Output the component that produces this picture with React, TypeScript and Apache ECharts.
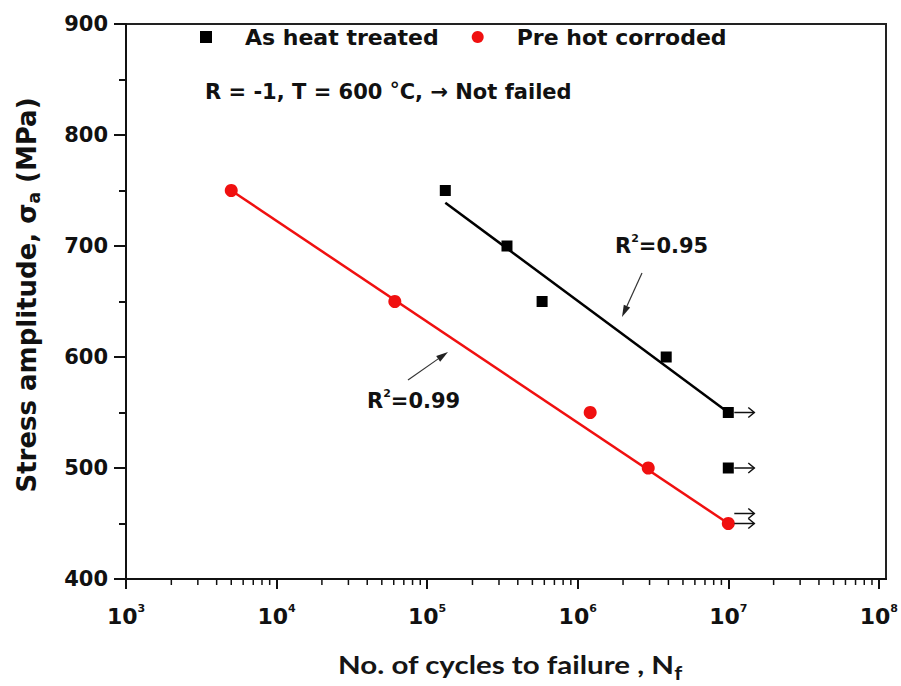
import React, { useEffect, useRef } from "react";
import * as echarts from "echarts";

// ---------- data ----------
const seriesNames = ["As heat treated", "Pre hot corroded"];

const heatTreatedN = [1.32e5, 3.39e5, 5.8e5, 3.87e6, 1e7, 1e7];
const heatTreatedS = [750, 700, 650, 600, 550, 500];

const corrodedN = [5.0e3, 6.1e4, 1.21e6, 2.94e6, 1e7];
const corrodedS = [750, 650, 550, 500, 450];

// fitted Basquin lines (end points)
const heatFitN = [1.32e5, 1e7];
const heatFitS = [739, 550];
const corrodedFitN = [5.0e3, 1e7];
const corrodedFitS = [750, 450];

// run-outs (not failed)
const heatRunoutN = [1e7, 1e7, 1e7];
const heatRunoutS = [550, 500, 450];
const corrodedRunoutN = [1e7];
const corrodedRunoutS = [450];

const xMin = 1e3;
const xMax = 1e8;
const yMin = 400;
const yMax = 900;
const yStep = 100;

const minorMultipliers = [2, 3, 4, 5, 6, 7, 8, 9];
const decadeExponents = [3, 4, 5, 6, 7];

const r2Heat = "0.95";
const r2Corroded = "0.99";

// ---------- styles ----------
const FONT = "'DejaVu Sans', sans-serif";
const INK = "#111111";
const RED = "#f01010";

const zip = (a: number[], b: number[]) => a.map((v, i) => [v, b[i]]);

// log-spaced minor tick values (2..9 × 10^e)
const minorTicks: number[][] = [];
decadeExponents.forEach((e) =>
  minorMultipliers.forEach((m) => minorTicks.push([m * Math.pow(10, e), yMin]))
);

const runoutData: number[][] = [];
(() => {
  const seen: Record<string, number> = {};
  const groups: [number[], number[]][] = [
    [corrodedRunoutN, corrodedRunoutS],
    [heatRunoutN, heatRunoutS],
  ];
  groups.forEach(([ns, ss]) =>
    ns.forEach((n, i) => {
      const key = n + "_" + ss[i];
      const k = seen[key] || 0;
      seen[key] = k + 1;
      runoutData.push([n, ss[i], k]);
    })
  );
})();

function annotationArrow(x1: number, y1: number, x2: number, y2: number) {
  const a = Math.atan2(y2 - y1, x2 - x1);
  const L = 12;
  const w = 3.5;
  const bx = x2 - L * Math.cos(a);
  const by = y2 - L * Math.sin(a);
  return [
    {
      type: "line",
      shape: { x1, y1, x2: bx, y2: by },
      style: { stroke: "#333", lineWidth: 1.2 },
    },
    {
      type: "polygon",
      shape: {
        points: [
          [x2, y2],
          [bx + w * Math.sin(a), by - w * Math.cos(a)],
          [bx - w * Math.sin(a), by + w * Math.cos(a)],
        ],
      },
      style: { fill: "#222" },
    },
  ];
}

const supRich = {
  sup: {
    fontSize: 11,
    fontWeight: "bold",
    fontFamily: FONT,
    lineHeight: 14,
    verticalAlign: "top",
    fill: INK,
    color: INK,
  },
};

export default function App() {
  const ref = useRef<HTMLDivElement>(null);

  useEffect(() => {
    if (!ref.current) return;
    const chart = echarts.init(ref.current, undefined, { renderer: "svg" });

    const option: any = {
      animation: false,
      backgroundColor: "#ffffff",
      grid: { left: 126, top: 24, width: 754, height: 555, containLabel: false },
      legend: {
        left: 195,
        top: 21,
        itemWidth: 12,
        itemHeight: 12,
        itemGap: 33,
        selectedMode: false,
        data: [
          { name: seriesNames[0], icon: "rect" },
          { name: seriesNames[1], icon: "circle" },
        ],
        textStyle: {
          fontFamily: FONT,
          fontWeight: "bold",
          fontSize: 22,
          color: INK,
          padding: [0, 0, 0, 28],
        },
      },
      xAxis: {
        type: "log",
        logBase: 10,
        min: xMin,
        max: xMax,
        splitNumber: 5,
        axisLine: { show: true, lineStyle: { color: INK, width: 2 } },
        axisTick: { show: true, length: 10, lineStyle: { color: INK, width: 2 } },
        minorTick: { show: false },
        splitLine: { show: false },
        axisLabel: {
          margin: 24,
          showMinLabel: true,
          showMaxLabel: true,
          formatter: (v: number) => `{b|10}{s|${Math.round(Math.log10(v))}}`,
          rich: {
            b: {
              fontSize: 22,
              fontWeight: "bold",
              fontFamily: FONT,
              color: INK,
              lineHeight: 26,
            },
            s: {
              fontSize: 11,
              fontWeight: "bold",
              fontFamily: FONT,
              color: INK,
              lineHeight: 14,
              verticalAlign: "top",
            },
          },
        },
      },
      yAxis: {
        type: "value",
        min: yMin,
        max: yMax,
        interval: yStep,
        axisLine: { show: true, lineStyle: { color: INK, width: 2 } },
        axisTick: { show: true, length: 12, lineStyle: { color: INK, width: 2 } },
        minorTick: { show: true, splitNumber: 2, length: 7, lineStyle: { color: INK, width: 2 } },
        splitLine: { show: false },
        axisLabel: {
          margin: 18,
          fontSize: 21,
          fontWeight: "bold",
          fontFamily: FONT,
          color: INK,
        },
      },
      series: [
        {
          name: "minor-ticks",
          type: "custom",
          silent: true,
          clip: false,
          z: 1,
          data: minorTicks,
          encode: { x: 0, y: 1 },
          renderItem: (params: any, api: any) => {
            const p = api.coord([api.value(0), api.value(1)]);
            return {
              type: "line",
              shape: { x1: p[0], y1: p[1], x2: p[0], y2: p[1] + 6 },
              style: { stroke: INK, lineWidth: 1.5 },
            };
          },
        },
        {
          name: "fit-heat",
          type: "line",
          data: zip(heatFitN, heatFitS),
          symbol: "none",
          lineStyle: { color: "#000", width: 2.5 },
          z: 2,
          silent: true,
        },
        {
          name: "fit-corroded",
          type: "line",
          data: zip(corrodedFitN, corrodedFitS),
          symbol: "none",
          lineStyle: { color: RED, width: 2.5 },
          z: 2,
          silent: true,
        },
        {
          name: seriesNames[0],
          type: "scatter",
          symbol: "rect",
          symbolSize: 11,
          itemStyle: { color: "#000", opacity: 1 },
          data: zip(heatTreatedN, heatTreatedS),
          z: 3,
        },
        {
          name: seriesNames[1],
          type: "scatter",
          symbol: "circle",
          symbolSize: 13,
          itemStyle: { color: RED, opacity: 1 },
          data: zip(corrodedN, corrodedS),
          z: 4,
        },
        {
          name: "runouts",
          type: "custom",
          silent: true,
          clip: false,
          z: 5,
          data: runoutData,
          encode: { x: 0, y: 1 },
          renderItem: (params: any, api: any) => {
            const p = api.coord([api.value(0), api.value(1)]);
            const y = p[1] - 10 * api.value(2);
            const x0 = p[0] + 6;
            const x1 = p[0] + 26;
            return {
              type: "group",
              children: [
                {
                  type: "line",
                  shape: { x1: x0, y1: y, x2: x1, y2: y },
                  style: { stroke: "#111", lineWidth: 1.5 },
                },
                {
                  type: "polyline",
                  shape: { points: [[x1 - 6, y - 5], [x1, y], [x1 - 6, y + 5]] },
                  style: { stroke: "#111", fill: null, lineWidth: 1.5 },
                },
              ],
            };
          },
        },
      ],
      graphic: [
        // frame (top / right)
        { type: "line", shape: { x1: 126, y1: 24, x2: 886, y2: 24 }, style: { stroke: "#222", lineWidth: 2 } },
        { type: "line", shape: { x1: 886, y1: 23, x2: 886, y2: 580 }, style: { stroke: "#222", lineWidth: 2 } },
        { type: "line", shape: { x1: 879, y1: 579, x2: 887, y2: 579 }, style: { stroke: INK, lineWidth: 2 } },
        // conditions
        {
          type: "text",
          x: 205,
          y: 92,
          style: {
            text: "R = -1, T = 600 {deg|°}C, → Not failed",
            fontSize: 21,
            fontWeight: "bold",
            fontFamily: FONT,
            fill: INK,
            lineHeight: 26,
            verticalAlign: "middle",
            rich: {
              deg: {
                fontSize: 20,
                fontWeight: "bold",
                fontFamily: FONT,
                lineHeight: 12,
                verticalAlign: "top",
                fill: INK,
              },
            },
          },
        },
        // R² annotations
        {
          type: "text",
          x: 615,
          y: 246,
          style: {
            text: `R{sup|2}=${r2Heat}`,
            fontSize: 21,
            fontWeight: "bold",
            fontFamily: FONT,
            fill: INK,
            lineHeight: 26,
            verticalAlign: "middle",
            rich: supRich,
          },
        },
        ...annotationArrow(642, 273, 622, 317),
        {
          type: "text",
          x: 367,
          y: 401,
          style: {
            text: `R{sup|2}=${r2Corroded}`,
            fontSize: 21,
            fontWeight: "bold",
            fontFamily: FONT,
            fill: INK,
            lineHeight: 26,
            verticalAlign: "middle",
            rich: supRich,
          },
        },
        ...annotationArrow(408, 380, 448, 352),
        // axis titles
        {
          type: "text",
          x: 510,
          y: 664,
          scaleX: 1.18,
          style: {
            text: "No. of cycles to failure , N{sub|f}",
            fontSize: 25,
            fontWeight: "bold",
            fontFamily: "Lato, 'Open Sans', sans-serif",
            fill: "#151515",
            lineHeight: 36,
            align: "center",
            verticalAlign: "middle",
            rich: {
              sub: {
                fontSize: 19,
                fontWeight: "bold",
                fontFamily: "Lato, 'Open Sans', sans-serif",
                lineHeight: 18,
                verticalAlign: "bottom",
                fill: "#151515",
              },
            },
          },
        },
        {
          type: "text",
          x: 27,
          y: 295,
          rotation: Math.PI / 2,
          style: {
            text: "Stress amplitude, σ{sub|a} (MPa)",
            fontSize: 26,
            fontWeight: "bold",
            fontFamily: FONT,
            fill: INK,
            lineHeight: 30,
            align: "center",
            verticalAlign: "middle",
            rich: {
              sub: {
                fontSize: 17,
                fontWeight: "bold",
                fontFamily: FONT,
                lineHeight: 16,
                verticalAlign: "bottom",
                fill: INK,
              },
            },
          },
        },
      ],
    };

    chart.setOption(option);
    return () => chart.dispose();
  }, []);

  return (
    <div
      ref={ref}
      style={{ position: "fixed", left: 0, top: 0, width: 901, height: 686, background: "#fff" }}
    />
  );
}
